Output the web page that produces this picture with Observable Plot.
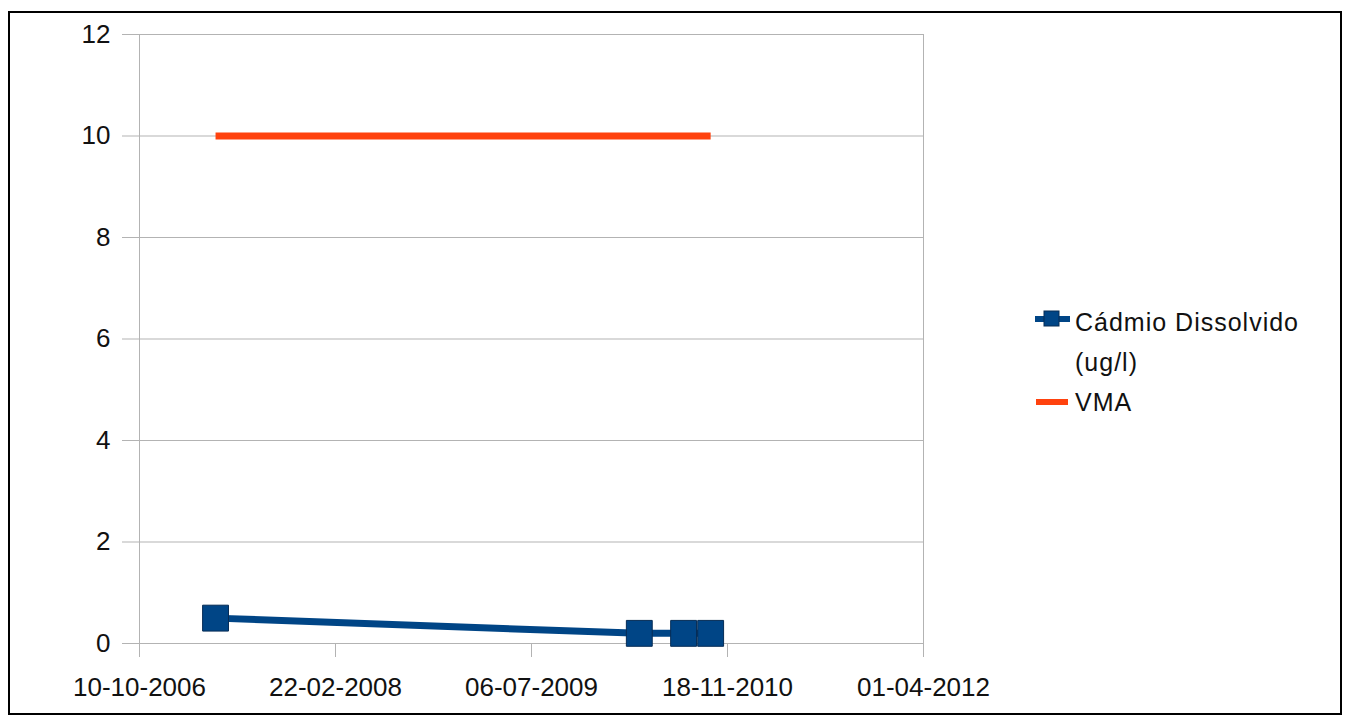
<!DOCTYPE html>
<html>
<head>
<meta charset="utf-8">
<script src="https://cdn.jsdelivr.net/npm/d3@7"></script>
<script src="https://cdn.jsdelivr.net/npm/@observablehq/plot@0.6"></script>
<style>
  html, body { margin: 0; padding: 0; background: #fff; }
  #wrap { position: relative; width: 1350px; height: 724px; overflow: hidden; font-family: "Liberation Sans", Arial, sans-serif; }
  #frame { position: absolute; left: 8px; top: 11px; width: 1334px; height: 704px; border: 2px solid #000; box-sizing: border-box; pointer-events: none; }
  #chart { position: absolute; left: 0; top: 0; }
  #legend { position: absolute; left: 0; top: 0; }
</style>
</head>
<body>
<div id="wrap">
  <div id="chart"></div>
  <svg id="legend" width="1350" height="724"></svg>
  <div id="frame"></div>
</div>
<script>
// Data
const sampleDates = ["2007-04-22", "2010-04-07", "2010-07-29", "2010-10-06"];
const cadmioValues = [0.5, 0.2, 0.2, 0.2];
const vmaValues = [10, 10, 10, 10];
const xTickDates = ["2006-10-10", "2008-02-22", "2009-07-06", "2010-11-18", "2012-04-01"];
const yTickValues = [0, 2, 4, 6, 8, 10, 12];
const seriesNames = ["Cádmio Dissolvido (ug/l)", "VMA"];
const seriesColors = ["#004586", "#ff420e"];

const parse = d3.utcParse("%Y-%m-%d");
const cadmio = sampleDates.map((d, i) => ({date: parse(d), value: cadmioValues[i]}));
const vma = sampleDates.map((d, i) => ({date: parse(d), value: vmaValues[i]}));
const xTicks = xTickDates.map(parse);
const grid = "#b3b3b3";

const chart = Plot.plot({
  width: 1350,
  height: 724,
  marginLeft: 139,
  marginRight: 427,
  marginTop: 34,
  marginBottom: 81,
  style: {fontFamily: "'Liberation Sans', Arial, sans-serif", fontSize: "26px", color: "#111", background: "transparent"},
  x: {type: "utc", domain: [xTicks[0], xTicks[xTicks.length - 1]]},
  y: {domain: [0, 12]},
  marks: [
    Plot.gridY(yTickValues, {stroke: grid, strokeOpacity: 1, strokeWidth: 1}),
    Plot.frame({stroke: grid, strokeWidth: 1}),
    Plot.axisY({ticks: yTickValues, tickSize: 17, tickPadding: 12, stroke: grid, strokeOpacity: 1, tickFormat: d => String(d), label: null}),
    Plot.axisX({ticks: xTicks, tickSize: 14, tickPadding: 20, stroke: grid, strokeOpacity: 1, tickFormat: d3.utcFormat("%d-%m-%Y"), label: null}),
    Plot.line(vma, {x: "date", y: "value", stroke: seriesColors[1], strokeWidth: 7, strokeLinecap: "butt"}),
    Plot.line(cadmio, {x: "date", y: "value", stroke: seriesColors[0], strokeWidth: 7}),
    Plot.dot(cadmio, {x: "date", y: "value", symbol: "square", r: 14.6, fill: seriesColors[0], stroke: "#062c55", strokeWidth: 1})
  ]
});
document.getElementById("chart").appendChild(chart);

// Legend
const lg = d3.select("#legend");
const fontFam = "'Liberation Sans', Arial, sans-serif";
lg.append("line").attr("x1", 1035).attr("x2", 1070).attr("y1", 319).attr("y2", 319)
  .attr("stroke", seriesColors[0]).attr("stroke-width", 6);
lg.append("rect").attr("x", 1044).attr("y", 311).attr("width", 15).attr("height", 15)
  .attr("fill", seriesColors[0]).attr("stroke", "#062c55").attr("stroke-width", 1);
lg.append("line").attr("x1", 1036).attr("x2", 1068).attr("y1", 402).attr("y2", 402)
  .attr("stroke", seriesColors[1]).attr("stroke-width", 6);
const labelLines = [["Cádmio Dissolvido", 322], ["(ug/l)", 362], [seriesNames[1], 402]];
labelLines.forEach(([t, y]) => {
  lg.append("text").attr("x", 1075).attr("y", y).attr("dy", "0.35em")
    .attr("font-family", fontFam).attr("font-size", 25).attr("letter-spacing", "1px")
    .attr("fill", "#111").text(t);
});
</script>
</body>
</html>
